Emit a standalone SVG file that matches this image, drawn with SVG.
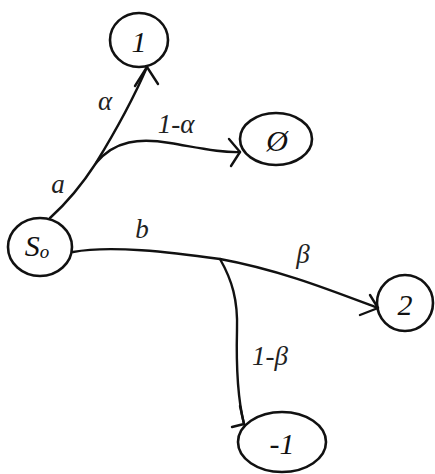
<svg xmlns="http://www.w3.org/2000/svg" width="435" height="474" viewBox="0 0 435 474">
<style>
.node{fill:none;stroke:#111;stroke-width:2.6}
.nt{font-family:"Liberation Serif",serif;font-style:italic;font-size:30px;fill:#111;text-anchor:middle;dominant-baseline:central}
.edge{fill:none;stroke:#111;stroke-width:2.4;stroke-linecap:round;stroke-linejoin:round}
.lbl{font-family:"Liberation Serif",serif;font-style:italic;font-size:27px;fill:#222;text-anchor:middle;dominant-baseline:central}
</style>
<rect width="435" height="474" fill="#fff"/>
<g id="connectors">
<path class="edge" d="M50,218 C70,200 85,180 96,163 C115,132 135,95 147,67"/>
<path class="edge" d="M135,86 L147,67 L158,84"/>
<path class="edge" d="M96,163 C115,140 140,138 170,143 C200,148 222,153 240,152"/>
<path class="edge" d="M229,139 L240,152 L231,166"/>
<path class="edge" d="M73,252 C110,245 170,252 220,259 C280,270 330,290 378,308"/>
<path class="edge" d="M370,295 L378,308 L360,315"/>
<path class="edge" d="M220,259 C232,280 238,300 237,330 C236,370 238,400 244,424"/>
<path class="edge" d="M240,406 L244,424 L232,427"/>
</g>
<g id="node-1"><ellipse class="node" cx="139" cy="40" rx="29" ry="27"/><text class="nt" x="139" y="41">1</text></g>
<g id="node-0"><ellipse class="node" cx="276" cy="139" rx="36" ry="26"/><text class="nt" x="277" y="140">Ø</text></g>
<g id="node-s0"><ellipse class="node" cx="40" cy="247" rx="32" ry="29"/><text class="nt" x="37" y="245">S<tspan font-size="19" dy="6">o</tspan></text></g>
<g id="node-2"><ellipse class="node" cx="405" cy="303" rx="28" ry="28"/><text class="nt" x="405" y="304">2</text></g>
<g id="node-m1"><ellipse class="node" cx="282" cy="442" rx="44" ry="30"/><text class="nt" x="282" y="443">-1</text></g>
<g id="labels">
<text class="lbl" x="105" y="101">α</text>
<text class="lbl" x="58" y="184">a</text>
<text class="lbl" x="176" y="124">1-α</text>
<text class="lbl" x="142" y="229">b</text>
<text class="lbl" x="303" y="254">β</text>
<text class="lbl" x="270" y="356">1-β</text>
</g>
</svg>
